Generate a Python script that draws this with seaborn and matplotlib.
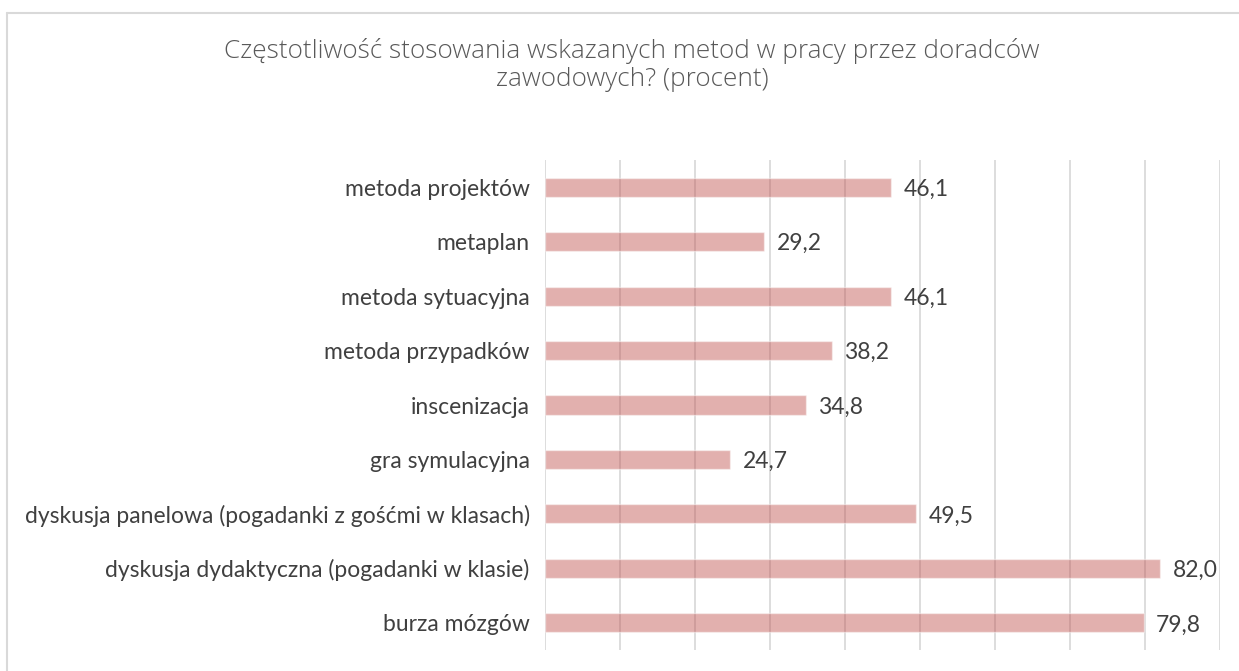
import matplotlib
matplotlib.use("Agg")
import matplotlib.pyplot as plt
import seaborn as sns
import pandas as pd
from matplotlib.lines import Line2D

categories = [
    "metoda projektów",
    "metaplan",
    "metoda sytuacyjna",
    "metoda przypadków",
    "inscenizacja",
    "gra symulacyjna",
    "dyskusja panelowa (pogadanki z gośćmi w klasach)",
    "dyskusja dydaktyczna (pogadanki w klasie)",
    "burza mózgów",
]
values = [46.1, 29.2, 46.1, 38.2, 34.8, 24.7, 49.5, 82.0, 79.8]
title = "Częstotliwość stosowania wskazanych metod w pracy przez doradców\nzawodowych? (procent)"

df = pd.DataFrame({"category": categories, "value": values})

sns.set_theme(style="white")
plt.rcParams["font.family"] = ["Lato", "DejaVu Sans"]

fig = plt.figure(figsize=(12.39, 6.71), dpi=100)
ax = fig.add_axes([545 / 1239, 1 - 650 / 671, 675 / 1239, 490 / 671])

sns.barplot(data=df, x="value", y="category", orient="h", color="#c0504d",
            alpha=0.45, width=0.35, ax=ax, saturation=1, zorder=3)

ax.set_xlim(0, 90)
ax.set_ylim(8.5, -0.5)
ax.set_xticks(range(0, 91, 10))
ax.xaxis.grid(True, color="#dadada", linewidth=1.3, zorder=0)
ax.set_axisbelow(True)
ax.tick_params(axis="x", labelbottom=False, length=0)
ax.tick_params(axis="y", length=0, pad=11, labelsize=16.5, labelcolor="#404040")
ax.set_xlabel("")
ax.set_ylabel("")
for s in ax.spines.values():
    s.set_visible(False)

for i, v in enumerate(values):
    ax.annotate(f"{v:.1f}".replace(".", ","), xy=(v, i), xytext=(9, -1.5),
                textcoords="offset points", ha="left", va="center",
                fontsize=16.5, color="#404040")

fig.text(632 / 1239, 1 - 65 / 671, title, ha="center", va="center",
         fontsize=18.8, color="#595959", linespacing=1.15,
         family=["Open Sans", "DejaVu Sans"], fontweight="light")

# Figure border (top and left visible)
fig.add_artist(Line2D([6.5 / 1239, 6.5 / 1239], [0, 1 - 12.5 / 671],
                      transform=fig.transFigure, color="#d9d9d9", linewidth=1.5))
fig.add_artist(Line2D([6.5 / 1239, 1], [1 - 12.5 / 671, 1 - 12.5 / 671],
                      transform=fig.transFigure, color="#d9d9d9", linewidth=1.5))

fig.savefig("out.png", dpi=100)
